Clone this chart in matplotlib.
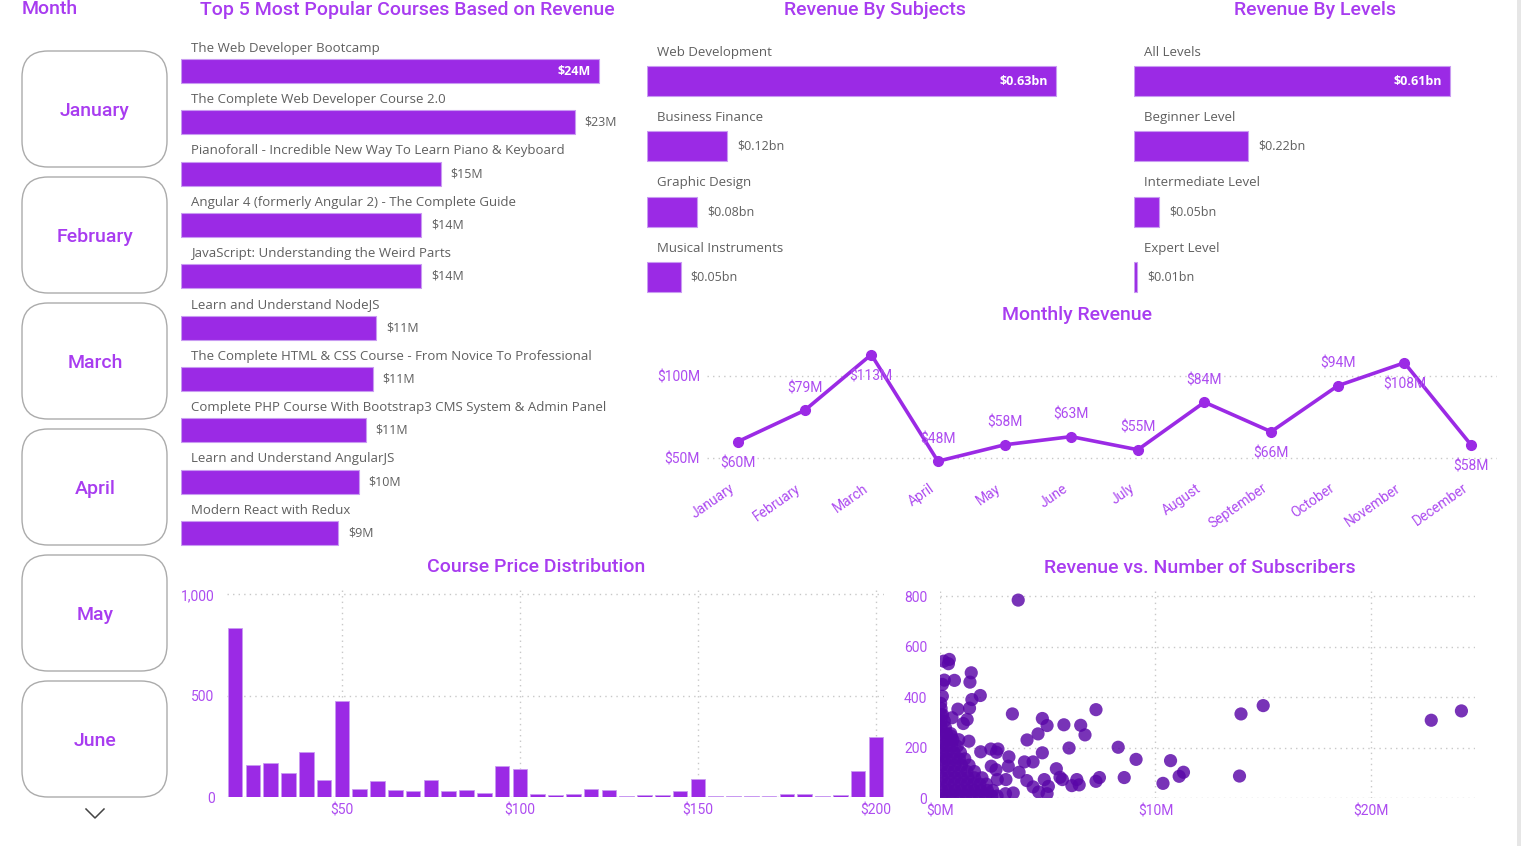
import matplotlib
matplotlib.use("Agg")
import matplotlib.pyplot as plt
from matplotlib.patches import FancyBboxPatch, Rectangle

# data

slicer_months = ["January", "February", "March", "April", "May", "June"]

courses = [
    "The Web Developer Bootcamp",
    "The Complete Web Developer Course 2.0",
    "Pianoforall - Incredible New Way To Learn Piano & Keyboard",
    "Angular 4 (formerly Angular 2) - The Complete Guide",
    "JavaScript: Understanding the Weird Parts",
    "Learn and Understand NodeJS",
    "The Complete HTML & CSS Course - From Novice To Professional",
    "Complete PHP Course With Bootstrap3 CMS System & Admin Panel",
    "Learn and Understand AngularJS",
    "Modern React with Redux",
]
course_revenue_m = [24.0, 22.6, 14.9, 13.8, 13.8, 11.2, 11.0, 10.6, 10.2, 9.0]
course_text = ["$24M", "$23M", "$15M", "$14M", "$14M", "$11M", "$11M", "$11M", "$10M", "$9M"]

subjects = ["Web Development", "Business Finance", "Graphic Design", "Musical Instruments"]
subject_revenue_bn = [0.63, 0.123, 0.077, 0.052]
subject_text = ["$0.63bn", "$0.12bn", "$0.08bn", "$0.05bn"]

levels = ["All Levels", "Beginner Level", "Intermediate Level", "Expert Level"]
level_revenue_bn = [0.61, 0.22, 0.048, 0.006]
level_text = ["$0.61bn", "$0.22bn", "$0.05bn", "$0.01bn"]

months = ["January", "February", "March", "April", "May", "June", "July",
          "August", "September", "October", "November", "December"]
monthly_revenue_m = [60, 79, 113, 48, 58, 63, 55, 84, 66, 94, 108, 58]
monthly_label_side = ["below", "above", "below", "above", "above", "above",
                      "above", "above", "below", "above", "below", "below"]

price_bins = [20, 25, 30, 35, 40, 45, 50, 55, 60, 65, 70, 75, 80, 85, 90, 95,
              100, 105, 110, 115, 120, 125, 130, 135, 140, 145, 150, 155, 160,
              165, 170, 175, 180, 185, 190, 195, 200]
price_counts = [833, 156, 169, 119, 220, 86, 472, 38, 78, 33, 28, 83, 31, 33,
                20, 154, 136, 13, 8, 17, 38, 33, 7, 8, 12, 30, 91, 7, 7, 7, 7,
                13, 17, 7, 12, 129, 296]

# scatter: revenue ($M) vs subscribers; dense cluster first, then the spread
scatter_revenue_m = [
    0.05, 0.3, 0.6, 0.9, 1.2, 1.5, 1.8, 2.1, 2.4, 2.65,
    0.1, 0.4, 0.7, 1.0, 1.3, 1.6, 1.9, 2.2, 2.45,
    0.05, 0.35, 0.65, 0.95, 1.25, 1.55, 1.85, 2.15,
    0.1, 0.4, 0.7, 1.0, 1.3, 1.6, 1.95,
    0.05, 0.35, 0.65, 0.95, 1.25, 1.6,
    0.1, 0.4, 0.7, 1.0, 1.35,
    0.05, 0.3, 0.6, 0.9, 1.15,
    0.1, 0.35, 0.65, 0.95,
    0.05, 0.3, 0.55, 0.8,
    0.1, 0.35, 0.6,
    0.05, 0.3, 0.5,
    0.05, 0.25,
    0.05, 0.2,
    0.05, 0.12,
    0.05, 0.03,
    3.63, 24.2, 22.8, 15.0, 13.97, 13.9, 11.3, 11.1, 10.7, 10.35,
    9.1, 8.55, 8.27, 7.4, 7.24, 7.24, 6.73, 6.53, 6.46, 6.35,
    6.12, 5.99, 5.75, 5.68, 5.57, 5.4, 5.03, 4.97, 4.84, 4.97,
    4.75, 4.75, 4.55, 4.58, 4.32, 4.32, 4.04, 4.03, 3.92, 3.67,
    3.36, 3.2, 3.17, 3.06, 3.4, 3.04, 2.69, 2.62, 2.36, 2.38,
    2.6, 2.66, 1.87, 1.89, 1.48, 1.45, 1.39, 1.37, 1.26, 1.08,
    1.34, 0.83, 0.67, 0.56, 0.43, 0.39, 0.17, 0.2, 0.11, 0.11,
    0.87, 0.52,
]
scatter_subscribers = [
    8, 8, 8, 8, 8, 8, 8, 8, 8, 8,
    30, 30, 30, 30, 30, 30, 30, 30, 30,
    55, 55, 55, 55, 55, 55, 55, 55,
    80, 80, 80, 80, 80, 80, 80,
    105, 105, 105, 105, 105, 105,
    130, 130, 130, 130, 130,
    155, 155, 155, 155, 155,
    180, 180, 180, 180,
    205, 205, 205, 205,
    230, 230, 230,
    255, 255, 255,
    280, 280,
    305, 305,
    330, 330,
    355, 375,
    784, 345, 308, 366, 333, 87, 102, 86, 148, 58,
    153, 81, 201, 81, 66, 350, 250, 288, 52, 73,
    49, 198, 290, 73, 82, 116, 46, 17, 73, 287,
    315, 179, 254, 24, 44, 143, 230, 69, 143, 102,
    333, 163, 126, 73, 20, 17, 194, 181, 194, 126,
    112, 73, 406, 183, 390, 496, 459, 356, 311, 295,
    225, 352, 466, 318, 549, 532, 542, 467, 450, 403,
    231, 245,
]

# styling

W, H = 1521, 846
PURPLE = "#9B2AE5"
BAR_EDGE = "#C99BF2"
TITLE_C = "#A83CF0"
TICK_C = "#AD4CF0"
GREY_TXT = "#5F5F5F"
GRID_C = "#C8C8C8"
DOT_C = "#5A06A8"
TITLE_FONT = "Roboto"
BODY_FONT = "Open Sans"
DOTTED = (0, (1, 3))

plt.rcParams["font.family"] = TITLE_FONT

fig = plt.figure(figsize=(W / 100, H / 100), dpi=100)
fig.patch.set_facecolor("white")


def px_axes(left, top, right, bottom):
    """Axes placed by pixel box (y down from the top)."""
    return fig.add_axes([left / W, 1 - bottom / H, (right - left) / W, (bottom - top) / H])


bg = fig.add_axes([0, 0, 1, 1])
bg.set_xlim(0, W)
bg.set_ylim(H, 0)
bg.axis("off")


def title(x, y, s, ha="center"):
    bg.text(x, y, s, ha=ha, va="baseline", fontsize=14, color=TITLE_C,
            family=TITLE_FONT, fontweight="medium")


# month slicer

title(22, 14, "Month", ha="left")
for i, m in enumerate(slicer_months):
    top = 51 + 126 * i
    bg.add_patch(FancyBboxPatch((22, top), 145, 116,
                                boxstyle="round,pad=0,rounding_size=26",
                                facecolor="white", edgecolor="#ABABAB", lw=1))
    bg.text(95, top + 60, m, ha="center", va="center", fontsize=14,
            color=TITLE_C, family=TITLE_FONT, fontweight="medium")
bg.plot([86, 95, 104], [809, 818, 809], color="#444444", lw=1.1)

# right edge strip
bg.add_patch(Rectangle((1517, 0), 4, H, facecolor="#E6E6E6", edgecolor="none"))


# horizontal bar panels

def hbar_panel(box, names, values, texts, xmax, bar_h, label_dy):
    ax = px_axes(*box)
    rows = list(range(len(values)))
    ax.barh(rows, values, height=bar_h, color=PURPLE, edgecolor=BAR_EDGE, linewidth=0.8)
    ax.set_xlim(0, xmax)
    ax.set_ylim(len(values) - 0.5, -1)
    ax.axis("off")
    for r, name, v, t in zip(rows, names, values, texts):
        ax.annotate(name, (0, r), xytext=(10, label_dy), textcoords="offset pixels",
                    ha="left", va="center", fontsize=9.5, color=GREY_TXT,
                    family=BODY_FONT)
        if r == 0:
            ax.annotate(t, (v, r), xytext=(-8, 0), textcoords="offset pixels",
                        ha="right", va="center", fontsize=9, color="white",
                        fontweight="bold", family=BODY_FONT)
        else:
            ax.annotate(t, (v, r), xytext=(10, 0), textcoords="offset pixels",
                        ha="left", va="center", fontsize=9, color=GREY_TXT,
                        family=BODY_FONT)
    return ax


title(407, 15, "Top 5 Most Popular Courses Based on Revenue")
hbar_panel((181, 19.7, 641, 558.7), courses, course_revenue_m, course_text,
           460 / 17.42, 24 / 51.33, 23)

title(875, 15, "Revenue By Subjects")
hbar_panel((647, 15.7, 1110, 309.7), subjects, subject_revenue_bn, subject_text,
           463 / 649, 30 / 65.33, 29)

title(1315, 15, "Revenue By Levels")
hbar_panel((1134, 15.7, 1500, 309.7), levels, level_revenue_bn, level_text,
           366 / 518, 30 / 65.33, 29)


def style_axes(ax):
    for sp in ax.spines.values():
        sp.set_visible(False)
    ax.tick_params(length=0, colors=TICK_C, labelsize=10)


# monthly revenue line

title(1077, 320, "Monthly Revenue")
ax = px_axes(707, 330, 1497, 475)
xs = list(range(len(months)))
ax.plot(xs, monthly_revenue_m, color=PURPLE, lw=2.6, marker="o", ms=7, clip_on=False)
ax.set_xlim(-0.465, 11.39)
ax.set_ylim(39.6, 128)
ax.set_yticks([50, 100])
ax.set_yticklabels(["$50M", "$100M"])
ax.grid(axis="y", ls=DOTTED, color=GRID_C, lw=1)
ax.set_xticks([])
style_axes(ax)
ax.tick_params(axis="y", pad=5)
# month names drawn as rotated labels hanging below each point
for x, m in zip(xs, months):
    ax.annotate(m, (x, 0), xycoords=ax.get_xaxis_transform(), xytext=(-9, -6),
                textcoords="offset pixels", rotation=35, ha="right", va="top",
                rotation_mode="anchor", fontsize=10, color=TICK_C)
for x, v, side in zip(xs, monthly_revenue_m, monthly_label_side):
    dy = 22 if side == "above" else -22
    ax.annotate(f"${v}M", (x, v), xytext=(0, dy), textcoords="offset pixels",
                ha="center", va="center", fontsize=10, color=TICK_C)

# course price histogram

title(536, 572, "Course Price Distribution")
ax = px_axes(227, 590, 884, 797)
ax.bar(price_bins, price_counts, width=4.1, color=PURPLE, edgecolor=BAR_EDGE, lw=0.6)
ax.set_xlim(17.7, 202.3)
ax.set_ylim(0, 1022)
ax.set_xticks([50, 100, 150, 200])
ax.set_xticklabels(["$50", "$100", "$150", "$200"])
ax.set_yticks([0, 500, 1000])
ax.set_yticklabels(["0", "500", "1,000"])
ax.grid(True, ls=DOTTED, color=GRID_C, lw=1)
ax.set_axisbelow(True)
style_axes(ax)
ax.tick_params(axis="y", pad=9)
ax.tick_params(axis="x", pad=5)

# revenue vs subscribers scatter

title(1200, 573, "Revenue vs. Number of Subscribers")
ax = px_axes(940, 590, 1475, 798)
ax.scatter(scatter_revenue_m, scatter_subscribers, s=90, color=DOT_C, alpha=0.82,
           edgecolors="none", zorder=3)
ax.set_xlim(0, 24.83)
ax.set_ylim(0, 824)
ax.set_xticks([0, 10, 20])
ax.set_xticklabels(["$0M", "$10M", "$20M"])
ax.set_yticks([0, 200, 400, 600, 800])
ax.grid(True, ls=DOTTED, color=GRID_C, lw=1)
ax.set_axisbelow(True)
style_axes(ax)
ax.tick_params(axis="y", pad=9)
ax.tick_params(axis="x", pad=5)

fig.savefig("out.png", dpi=100)
